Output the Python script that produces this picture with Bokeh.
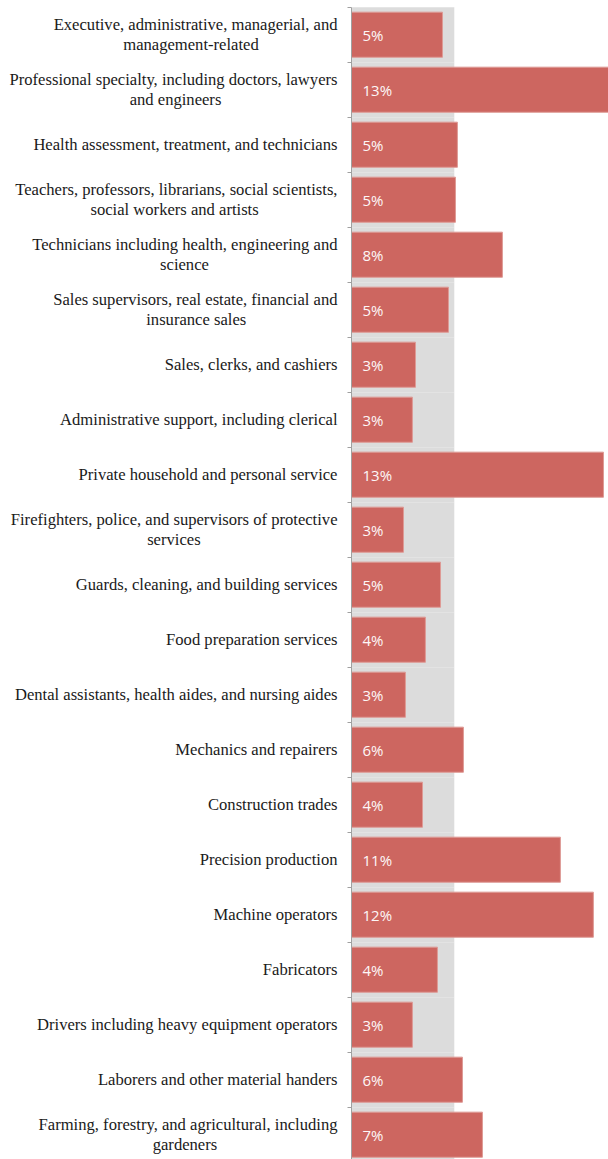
from bokeh.plotting import figure
from bokeh.models import Range1d, FixedTicker, ColumnDataSource
from bokeh.core.properties import value
from bokeh.embed import file_html
from bokeh.resources import INLINE

categories = [
    "Executive, administrative, managerial, and\nmanagement-related",
    "Professional specialty, including doctors, lawyers\nand engineers",
    "Health assessment, treatment, and technicians",
    "Teachers, professors, librarians, social scientists,\nsocial workers and artists",
    "Technicians including health, engineering and\nscience",
    "Sales supervisors, real estate, financial and\ninsurance sales",
    "Sales, clerks, and cashiers",
    "Administrative support, including clerical",
    "Private household and personal service",
    "Firefighters, police, and supervisors of protective\nservices",
    "Guards, cleaning, and building services",
    "Food preparation services",
    "Dental assistants, health aides, and nursing aides",
    "Mechanics and repairers",
    "Construction trades",
    "Precision production",
    "Machine operators",
    "Fabricators",
    "Drivers including heavy equipment operators",
    "Laborers and other material handers",
    "Farming, forestry, and agricultural, including\ngardeners",
]
shares = [4.69, 13.4, 5.46, 5.36, 7.78, 5.0, 3.30, 3.14, 12.99, 2.68, 4.59,
          3.81, 2.78, 5.77, 3.66, 10.77, 12.47, 4.43, 3.14, 5.72, 6.75]
share_labels = ["5%", "13%", "5%", "5%", "8%", "5%", "3%", "3%", "13%", "3%", "5%",
                "4%", "3%", "6%", "4%", "11%", "12%", "4%", "3%", "6%", "7%"]
average_share = 5.3

# layout only: trailing no-break spaces so the second line of a wrapped label
# sits centred under the first line (as in the reference)
second_line_pad = {0: 19, 1: 28, 3: 19, 4: 31, 5: 22, 9: 33, 20: 29}

n = len(categories)
ypos = list(range(n))

src = ColumnDataSource(dict(y=ypos, v=shares, lab=share_labels,
                            avg=[average_share] * n, zero=[0] * n))

p = figure(width=608, height=1159, output_backend="svg", toolbar_location=None,
           x_range=Range1d(0, 13.25), y_range=Range1d(20.451, -0.622),
           x_axis_location=None, min_border_left=351, min_border_right=0,
           min_border_top=0, min_border_bottom=0)
p.outline_line_color = None
p.xgrid.visible = False
p.ygrid.visible = False
p.background_fill_color = "white"
p.border_fill_color = "white"

# gray band
p.hbar(y="y", left="zero", right="avg", height=1.0, source=src,
       fill_color="#DCDCDC", line_color=None)
# bars
p.hbar(y="y", left="zero", right="v", height=0.82, source=src,
       fill_color="#CD6660", line_color="#DE9A95", line_width=1)
# labels
p.text(x="zero", y="y", text="lab", source=src, x_offset=11,
       text_baseline="middle", text_align="left", text_color="#FDF7F7",
       text_font=value("Open Sans"), text_font_size="15px")


def padded(i, c):
    if i in second_line_pad:
        return c + "\u00a0" * second_line_pad[i]
    return c


ax = p.yaxis[0]
ax.ticker = FixedTicker(ticks=ypos, minor_ticks=[i - 0.5 for i in range(n + 1)])
ax.major_label_overrides = {i: padded(i, c) for i, c in enumerate(categories)}
ax.bounds = (-0.5, n - 0.5)
ax.major_tick_out = 0
ax.major_tick_in = 0
ax.minor_tick_out = 4
ax.minor_tick_in = 0
ax.minor_tick_line_color = "#A0A0A0"
ax.axis_line_color = "#A0A0A0"
ax.axis_line_width = 1
ax.major_label_standoff = 10
ax.major_label_text_font = "Liberation Serif"
ax.major_label_text_font_size = "16.6px"
ax.major_label_text_color = "#1a1a1a"
ax.major_label_text_line_height = 1.05

open("out.html", "w").write(file_html(p, INLINE))
